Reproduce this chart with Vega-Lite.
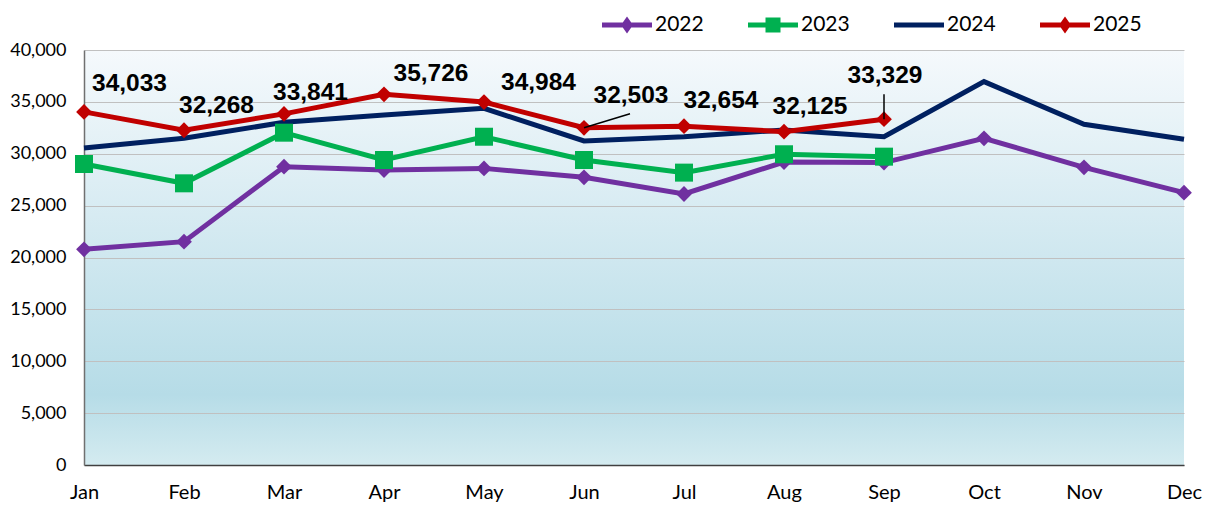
{
  "$schema": "https://vega.github.io/schema/vega-lite/v6.json",
  "autosize": {"type": "none"},
  "width": 1100,
  "height": 415,
  "padding": {"left": 84, "top": 50, "right": 30, "bottom": 41},
  "background": "white",
  "config": {
    "view": {
      "stroke": null,
      "fill": {
        "gradient": "linear", "x1": 0, "y1": 0, "x2": 0, "y2": 1,
        "stops": [
          {"offset": 0, "color": "#f5f9fc"},
          {"offset": 0.83, "color": "#b6dce7"},
          {"offset": 1, "color": "#d4ebf0"}
        ]
      }
    }
  },
  "data": {
    "values": [
      {"month": "Jan", "year": "2022", "value": 20790},
      {"month": "Feb", "year": "2022", "value": 21530},
      {"month": "Mar", "year": "2022", "value": 28750},
      {"month": "Apr", "year": "2022", "value": 28430},
      {"month": "May", "year": "2022", "value": 28590},
      {"month": "Jun", "year": "2022", "value": 27730},
      {"month": "Jul", "year": "2022", "value": 26120},
      {"month": "Aug", "year": "2022", "value": 29200},
      {"month": "Sep", "year": "2022", "value": 29150},
      {"month": "Oct", "year": "2022", "value": 31490},
      {"month": "Nov", "year": "2022", "value": 28690},
      {"month": "Dec", "year": "2022", "value": 26250},
      {"month": "Jan", "year": "2023", "value": 29010},
      {"month": "Feb", "year": "2023", "value": 27150},
      {"month": "Mar", "year": "2023", "value": 32030},
      {"month": "Apr", "year": "2023", "value": 29400},
      {"month": "May", "year": "2023", "value": 31640},
      {"month": "Jun", "year": "2023", "value": 29400},
      {"month": "Jul", "year": "2023", "value": 28180},
      {"month": "Aug", "year": "2023", "value": 29950},
      {"month": "Sep", "year": "2023", "value": 29720},
      {"month": "Jan", "year": "2024", "value": 30550},
      {"month": "Feb", "year": "2024", "value": 31490},
      {"month": "Mar", "year": "2024", "value": 33030},
      {"month": "Apr", "year": "2024", "value": 33740},
      {"month": "May", "year": "2024", "value": 34380},
      {"month": "Jun", "year": "2024", "value": 31230},
      {"month": "Jul", "year": "2024", "value": 31640},
      {"month": "Aug", "year": "2024", "value": 32290},
      {"month": "Sep", "year": "2024", "value": 31640},
      {"month": "Oct", "year": "2024", "value": 36950},
      {"month": "Nov", "year": "2024", "value": 32840},
      {"month": "Dec", "year": "2024", "value": 31390},
      {"month": "Jan", "year": "2025", "value": 34033},
      {"month": "Feb", "year": "2025", "value": 32268},
      {"month": "Mar", "year": "2025", "value": 33841},
      {"month": "Apr", "year": "2025", "value": 35726},
      {"month": "May", "year": "2025", "value": 34984},
      {"month": "Jun", "year": "2025", "value": 32503},
      {"month": "Jul", "year": "2025", "value": 32654},
      {"month": "Aug", "year": "2025", "value": 32125},
      {"month": "Sep", "year": "2025", "value": 33329}
    ]
  },
  "encoding": {
    "x": {
      "field": "month", "type": "ordinal",
      "scale": {"type": "point", "padding": 0, "domain": ["Jan","Feb","Mar","Apr","May","Jun","Jul","Aug","Sep","Oct","Nov","Dec"]},
      "axis": {
        "title": null, "labelAngle": 0, "labelFont": "Lato", "labelFontSize": 20, "labelColor": "#000000",
        "ticks": false, "tickSize": 0, "labelPadding": 17, "domainColor": "#404040", "domainWidth": 1.5, "grid": false
      }
    },
    "y": {
      "field": "value", "type": "quantitative",
      "scale": {"domain": [0, 40000], "nice": false, "zero": true},
      "axis": {
        "title": null, "values": [0,5000,10000,15000,20000,25000,30000,35000,40000], "format": ",.0f",
        "labelFont": "Lato", "labelFontSize": 18, "labelColor": "#000000", "ticks": false, "tickSize": 0, "labelPadding": 18,
        "domainColor": "#707070", "domainWidth": 1.5, "grid": true, "gridColor": "#c0c0c0", "gridWidth": 1
      }
    }
  },
  "layer": [
    {
      "mark": {"type": "line", "strokeWidth": 5},
      "encoding": {
        "color": {
          "field": "year", "type": "nominal",
          "scale": {"domain": ["2022","2023","2024","2025"], "range": ["#7030a0","#00b050","#002060","#c00000"]},
          "legend": {
            "title": null, "orient": "none", "legendX": 518, "legendY": -50, "direction": "horizontal",
            "labelFont": "Lato", "labelFontSize": 21, "labelColor": "#000000", "labelOffset": 3,
            "columnPadding": 44, "symbolSize": 2500,
            "encode": {
              "symbols": {
                "update": {
                  "shape": {"signal": "datum.value === '2023' ? 'M-1,-0.1L1,-0.1L1,0.1L-1,0.1Z M-0.3,-0.3L0.3,-0.3L0.3,0.3L-0.3,0.3Z' : datum.value === '2024' ? 'M-1,-0.1L1,-0.1L1,0.1L-1,0.1Z' : 'M-1,-0.1L1,-0.1L1,0.1L-1,0.1Z M0,-0.34L0.24,0L0,0.34L-0.24,0Z'"},
                  "fill": {"scale": "color", "field": "value"},
                  "stroke": {"value": "transparent"},
                  "strokeWidth": {"value": 0},
                  "opacity": {"value": 1},
                  "size": {"value": 2500}
                }
              }
            }
          }
        }
      }
    },
    {
      "transform": [{"filter": "datum.year === '2022'"}],
      "mark": {"type": "point", "shape": "diamond", "filled": true, "size": 250, "opacity": 1, "color": "#7030a0"}
    },
    {
      "transform": [{"filter": "datum.year === '2023'"}],
      "mark": {"type": "point", "shape": "square", "filled": true, "size": 324, "opacity": 1, "color": "#00b050"}
    },
    {
      "transform": [{"filter": "datum.year === '2025'"}],
      "mark": {"type": "point", "shape": "diamond", "filled": true, "size": 250, "opacity": 1, "color": "#c00000"}
    },
    {
      "transform": [{"filter": "datum.year === '2025' && (datum.month === 'Jun' || datum.month === 'Sep')"}],
      "mark": {
        "type": "rule", "color": "#000000", "strokeWidth": 1.5,
        "x2Offset": {"expr": "datum.month === 'Jun' ? 46 : 0"},
        "y2Offset": {"expr": "datum.month === 'Jun' ? -14 : -25"}
      },
      "encoding": {
        "x2": {"field": "month"},
        "y2": {"field": "value"}
      }
    },
    {
      "transform": [{"filter": "datum.year === '2025'"}],
      "mark": {
        "type": "text", "font": "Liberation Sans", "fontWeight": "bold", "fontSize": 24.5, "color": "#000000",
        "align": "center", "baseline": "middle",
        "dx": {"expr": "({'Jan':45.5,'Feb':32.5,'Mar':26.5,'Apr':47,'May':54.5,'Jun':47,'Jul':37,'Aug':26,'Sep':1})[datum.month]"},
        "dy": {"expr": "({'Jan':-28,'Feb':-24,'Mar':-21,'Apr':-20,'May':-19.5,'Jun':-32,'Jul':-25,'Aug':-25,'Sep':-43})[datum.month]"}
      },
      "encoding": {
        "text": {"field": "value", "type": "quantitative", "format": ",.0f"}
      }
    }
  ]
}
